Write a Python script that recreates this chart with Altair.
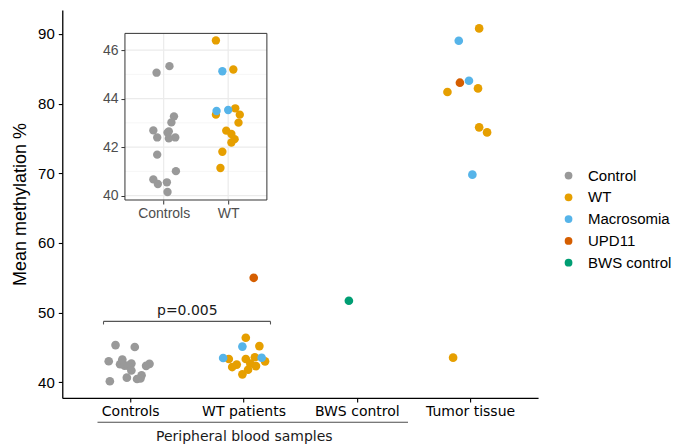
import json
import altair as alt
import pandas as pd

categories = ["Controls", "WT patients", "BWS control", "Tumor tissue"]
inset_categories = ["Controls", "WT"]
groups = ["Control", "WT", "Macrosomia", "UPD11", "BWS control"]
colors = ["#999999", "#E69F00", "#56B4E9", "#D55E00", "#009E73"]

# Controls (peripheral blood)
ctrl_vals = [45.34, 45.07, 43.27, 43.02, 42.69, 42.65, 42.60, 42.40, 42.40, 42.36,
             41.69, 41.01, 40.67, 40.55, 40.48, 40.15]
ctrl_jit_main = [-0.13, 0.04, -0.07, -0.19, 0.01, 0.17, -0.09, -0.05, -0.02, 0.14,
                 0.01, 0.10, -0.03, 0.09, 0.06, -0.18]
ctrl_jit_inset = [0.09, -0.11, 0.16, 0.12, -0.16, 0.08, 0.06, -0.10, 0.18, 0.08,
                  -0.10, 0.19, -0.16, 0.05, -0.09, 0.06]

# WT patients (peripheral blood)
wt_vals = [46.40, 45.20, 43.60, 43.34, 43.34, 43.01, 42.68, 42.54, 42.33, 42.19,
           41.81, 41.14, 45.13, 43.53, 43.49]
wt_groups = ["WT"] * 12 + ["Macrosomia"] * 3
wt_jit_main = [0.02, 0.14, 0.10, -0.13, 0.02, 0.19, 0.06, -0.06, 0.11, -0.10,
               0.04, -0.01, -0.01, 0.16, -0.18]
wt_jit_inset = [-0.19, 0.08, 0.11, -0.19, 0.18, 0.16, -0.03, 0.05, 0.10, 0.05,
                -0.09, -0.12, -0.09, 0.00, -0.18]

upd_vals = [55.0]
upd_jit = [0.09]
bws_vals = [51.7]
bws_jit = [-0.07]

tumor_vals = [90.79, 89.02, 83.28, 83.0, 81.66, 82.18, 76.59, 75.87, 69.8, 43.54]
tumor_groups = ["WT", "Macrosomia", "Macrosomia", "UPD11", "WT", "WT", "WT", "WT",
                "Macrosomia", "WT"]
tumor_jit = [0.08, -0.10, -0.01, -0.09, -0.20, 0.07, 0.08, 0.15, 0.02, -0.15]

p_label = "p=0.005"
group_label = "Peripheral blood samples"

# ---------- main data ----------
rows = []
for v, j in zip(ctrl_vals, ctrl_jit_main):
    rows.append((1, j, v, "Control"))
for v, g, j in zip(wt_vals, wt_groups, wt_jit_main):
    rows.append((2, j, v, g))
for v, j in zip(upd_vals, upd_jit):
    rows.append((2, j, v, "UPD11"))
for v, j in zip(bws_vals, bws_jit):
    rows.append((3, j, v, "BWS control"))
for v, g, j in zip(tumor_vals, tumor_groups, tumor_jit):
    rows.append((4, j, v, g))
main_df = pd.DataFrame(rows, columns=["cat", "jit", "value", "group"])
main_df["x"] = main_df["cat"] + main_df["jit"]

irows = []
for v, j in zip(ctrl_vals, ctrl_jit_inset):
    irows.append((1, j, v, "Control"))
for v, g, j in zip(wt_vals, wt_groups, wt_jit_inset):
    irows.append((2, j, v, g))
inset_df = pd.DataFrame(irows, columns=["cat", "jit", "value", "group"])
inset_df["x"] = inset_df["cat"] + inset_df["jit"]

# ---------- scales / axes ----------
xs_main = alt.Scale(domain=[0.4, 4.6], nice=False, zero=False)
ys_main = alt.Scale(domain=[37.76, 93.42], nice=False, zero=False)
x_axis_main = alt.Axis(
    values=[1, 2, 3, 4],
    labelExpr=json.dumps(categories) + "[datum.value - 1]",
    title=None, grid=False, domainColor="black", domainWidth=1.3,
    tickColor="black", tickSize=4, tickWidth=1.1,
    labelFont="DejaVu Sans", labelFontSize=14, labelColor="black", labelPadding=3,
)
y_axis_main = alt.Axis(
    values=[40, 50, 60, 70, 80, 90], title="Mean methylation %",
    titleFont="Liberation Sans", titleFontSize=18, titleFontWeight="normal",
    titleColor="black", titlePadding=8, grid=False, domainColor="black",
    domainWidth=1.3, tickColor="black", tickSize=4, tickWidth=1.1,
    labelFont="Liberation Sans", labelFontSize=15, labelColor="black", labelPadding=4,
)

color = alt.Color(
    "group:N",
    scale=alt.Scale(domain=groups, range=colors),
    legend=alt.Legend(
        title=None, orient="none", legendX=499, legendY=158, padding=0,
        labelFont="Liberation Sans", labelFontSize=15, labelColor="black",
        symbolSize=60, symbolType="circle", symbolStrokeWidth=0,
        rowPadding=5.8, labelOffset=12,
    ),
)

def MX(field):
    return alt.X(field, type="quantitative", scale=xs_main, axis=x_axis_main)

def MY(field):
    return alt.Y(field, type="quantitative", scale=ys_main, axis=y_axis_main)

main_points = alt.Chart(main_df).mark_circle(size=75, opacity=1).encode(
    x=MX("x"), y=MY("value"), color=color
)

# bracket + annotation
bracket_df = pd.DataFrame({"x0": [0.764], "x1": [2.238], "y0": [48.75], "y1": [48.3]})
br_h = alt.Chart(bracket_df).mark_rule(color="#555555", strokeWidth=1.1).encode(
    x=MX("x0"), x2="x1", y=MY("y0"))
br_l = alt.Chart(bracket_df).mark_rule(color="#555555", strokeWidth=1.1).encode(
    x=MX("x0"), y=MY("y0"), y2="y1")
br_r = alt.Chart(bracket_df).mark_rule(color="#555555", strokeWidth=1.1).encode(
    x=MX("x1"), y=MY("y0"), y2="y1")
ptext_df = pd.DataFrame({"x": [1.504], "y": [50.3], "t": [p_label]})
ptext = alt.Chart(ptext_df).mark_text(
    font="DejaVu Sans", fontSize=14, color="#1a1a1a", baseline="middle", align="center"
).encode(x=MX("x"), y=MY("y"), text="t")

ul_df = pd.DataFrame({"x0": [0.711], "x1": [3.452], "y": [34.26]})
underline = alt.Chart(ul_df).mark_rule(color="#4d4d4d", strokeWidth=1.1).encode(
    x=MX("x0"), x2="x1", y=MY("y"))
gl_df = pd.DataFrame({"x": [2.007], "y": [32.2], "t": [group_label]})
gtext = alt.Chart(gl_df).mark_text(
    font="DejaVu Sans", fontSize=14, color="#1a1a1a", baseline="middle", align="center"
).encode(x=MX("x"), y=MY("y"), text="t")

main = alt.layer(main_points, br_h, br_l, br_r, ptext, underline, gtext)

# ---------- inset ----------
xs_in = alt.Scale(domain=[0.4, 2.6], range=[62.7, 204.7], nice=False, zero=False)
ys_in = alt.Scale(domain=[39.82, 46.69], range=[190, 23.3], nice=False, zero=False)
x_axis_in = alt.Axis(
    orient="bottom", offset=-198, values=[1, 2],
    labelExpr=json.dumps(inset_categories) + "[datum.value - 1]",
    title=None, grid=False, domain=False, tickColor="#333333", tickSize=4,
    labelFont="Liberation Sans", labelFontSize=14, labelColor="#4d4d4d", labelPadding=2,
)
y_axis_in = alt.Axis(
    orient="left", offset=-62.7, values=[40, 42, 44, 46], title=None, grid=False,
    domain=False, tickColor="#333333", tickSize=4,
    labelFont="Liberation Sans", labelFontSize=14, labelColor="#4d4d4d", labelPadding=3,
)

def IX(field):
    return alt.X(field, type="quantitative", scale=xs_in, axis=x_axis_in)

def IY(field):
    return alt.Y(field, type="quantitative", scale=ys_in, axis=y_axis_in)

panel_df = pd.DataFrame({"x0": [0.4], "x1": [2.6], "y0": [39.82], "y1": [46.69]})
panel_bg = alt.Chart(panel_df).mark_rect(fill="white").encode(
    x=IX("x0"), x2="x1", y=IY("y0"), y2="y1")
major_df = pd.DataFrame({"v": [40, 42, 44, 46], "x0": 0.4, "x1": 2.6})
minor_df = pd.DataFrame({"v": [41, 43, 45], "x0": 0.4, "x1": 2.6})
vgrid_df = pd.DataFrame({"c": [1, 2], "y0": 39.82, "y1": 46.69})
minor_grid = alt.Chart(minor_df).mark_rule(color="#f2f2f2", strokeWidth=0.7).encode(
    x=IX("x0"), x2="x1", y=IY("v"))
major_grid = alt.Chart(major_df).mark_rule(color="#ebebeb", strokeWidth=1.2).encode(
    x=IX("x0"), x2="x1", y=IY("v"))
v_grid = alt.Chart(vgrid_df).mark_rule(color="#ebebeb", strokeWidth=1.2).encode(
    x=IX("c"), y=IY("y0"), y2="y1")
inset_points = alt.Chart(inset_df).mark_circle(size=70, opacity=1).encode(
    x=IX("x"), y=IY("value"), color=color)
panel_border = alt.Chart(panel_df).mark_rect(
    fill="white", fillOpacity=0, stroke="#333333", strokeWidth=1
).encode(x=IX("x0"), x2="x1", y=IY("y0"), y2="y1")

inset = alt.layer(panel_bg, minor_grid, major_grid, v_grid, inset_points, panel_border)

chart = alt.layer(main, inset).resolve_scale(
    x="independent", y="independent"
).properties(
    width=476, height=388,
    autosize=alt.AutoSizeParams(type="none"),
    padding={"left": 54.3, "top": 2, "right": 140, "bottom": 46},
).configure_view(stroke=None)

chart.save("out.html", embed_options={"renderer": "svg", "actions": False})
